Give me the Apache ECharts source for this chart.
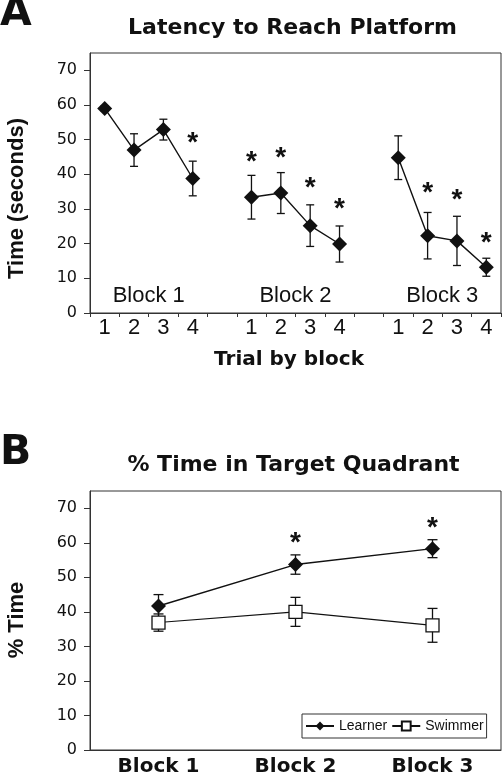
<!DOCTYPE html>
<html><head><meta charset="utf-8">
<script src="https://cdn.jsdelivr.net/npm/echarts@6/dist/echarts.min.js"></script>
<style>html,body{margin:0;padding:0;background:#fff}#c{width:502px;height:777px}</style>
</head><body><div id="c"></div>
<script>
// ---------- Panel A data ----------
const trialLabels = ['1','2','3','4','','1','2','3','4','','1','2','3','4'];
const latencyMean = [59.0, 47.0, 52.9, 38.8, null, 33.4, 34.6, 25.2, 19.9, null, 44.8, 22.3, 20.8, 13.2];
const latencyErr  = [0.8, 4.7, 3.0, 5.0, null, 6.3, 5.9, 6.0, 5.2, null, 6.3, 6.7, 7.1, 2.6];
const latencyStar = [null, null, null, 50.7, null, 45.2, 46.3, 37.6, 31.6, null, null, 36.2, 34.2, 21.9];
const blockNames = ['Block 1', 'Block 2', 'Block 3'];
const blockLabelY = 4.85;
const yTicks = [0, 10, 20, 30, 40, 50, 60, 70];

// ---------- Panel B data ----------
const blocks = ['Block 1', 'Block 2', 'Block 3'];
const learnerMean = [41.7, 53.7, 58.3];
const learnerErr  = [3.3, 2.8, 2.6];
const swimmerMean = [36.9, 40.0, 36.1];
const swimmerErr  = [2.5, 4.2, 4.9];
const learnerStar = [null, 61.7, 66.0];

const INK = '#111';
const chart = echarts.init(document.getElementById('c'), null, {renderer: 'canvas'});

function triples(mean, err) {
  const out = [];
  mean.forEach((m, i) => { if (m != null) out.push([i, m, err[i]]); });
  return out;
}
function pairs(vals) {
  const out = [];
  vals.forEach((v, i) => { if (v != null) out.push([i, v]); });
  return out;
}
function errorBar(hw) {
  return function (params, api) {
    const x = api.value(0), m = api.value(1), e = api.value(2);
    const t = api.coord([x, m + e]);
    const b = api.coord([x, m - e]);
    const st = {stroke: INK, lineWidth: 1.3, fill: null};
    return {type: 'group', children: [
      {type: 'line', shape: {x1: t[0], y1: t[1], x2: b[0], y2: b[1]}, style: st},
      {type: 'line', shape: {x1: t[0] - hw, y1: t[1], x2: t[0] + hw, y2: t[1]}, style: st},
      {type: 'line', shape: {x1: b[0] - hw, y1: b[1], x2: b[0] + hw, y2: b[1]}, style: st}
    ]};
  };
}
function starItem(params, api) {
  const p = api.coord([api.value(0), api.value(1)]);
  return {type: 'text', x: p[0], y: p[1] + 6, style: {
    text: '*', fontSize: 28, fontWeight: 'bold', fontFamily: 'Liberation Sans',
    fill: INK, align: 'center', verticalAlign: 'middle'}};
}
// block ranges derived from trial labels (runs of non-empty labels)
const blockRanges = [];
(function () {
  let s = null;
  trialLabels.forEach((l, i) => {
    if (l !== '' && s === null) s = i;
    if ((l === '' || i === trialLabels.length - 1) && s !== null) {
      blockRanges.push([s, l === '' ? i - 1 : i, blockLabelY]);
      s = null;
    }
  });
})();
function blockLabelItem(params, api) {
  const a = api.coord([api.value(0), api.value(2)]);
  const b = api.coord([api.value(1), api.value(2)]);
  return {type: 'text', x: (a[0] + b[0]) / 2, y: a[1], style: {
    text: blockNames[params.dataIndex], fontSize: 22, fontFamily: 'Liberation Sans',
    fill: INK, align: 'center', verticalAlign: 'middle'}};
}

const yAxisCommon = {
  type: 'value', min: 0, max: 75,
  axisLine: {show: true, lineStyle: {color: '#333', width: 1}},
  axisTick: {show: true, length: 6, lineStyle: {color: '#333'}, customValues: yTicks},
  axisLabel: {margin: 13, fontFamily: 'DejaVu Sans', fontSize: 16, color: INK, customValues: yTicks},
  splitLine: {show: false}
};

const option = {
  animation: false,
  backgroundColor: '#fff',
  grid: [
    {left: 90, right: 1, top: 53, bottom: 464, show: true, borderColor: '#333', borderWidth: 1, backgroundColor: 'transparent'},
    {left: 90, right: 1, top: 491, bottom: 27, show: true, borderColor: '#333', borderWidth: 1, backgroundColor: 'transparent'}
  ],
  xAxis: [
    {type: 'category', gridIndex: 0, data: trialLabels, boundaryGap: true,
     axisLine: {lineStyle: {color: '#333'}},
     axisTick: {show: true, length: 4, interval: 0, lineStyle: {color: '#333'}},
     axisLabel: {interval: 0, margin: 4, fontFamily: 'Liberation Sans', fontSize: 22, color: INK}},
    {type: 'category', gridIndex: 1, data: blocks, boundaryGap: true,
     axisLine: {lineStyle: {color: '#333'}},
     axisTick: {show: false},
     axisLabel: {interval: 0, margin: 7, fontFamily: 'DejaVu Sans', fontWeight: 'bold', fontSize: 20, color: INK}}
  ],
  yAxis: [
    Object.assign({gridIndex: 0}, yAxisCommon),
    Object.assign({gridIndex: 1}, yAxisCommon)
  ],
  legend: {
    data: ['Learner', 'Swimmer'],
    left: 302, top: 714,
    itemWidth: 28, itemHeight: 11, itemGap: 4,
    padding: [5, 3, 5, 3],
    borderColor: '#333', borderWidth: 1, backgroundColor: '#fff',
    textStyle: {fontFamily: 'Liberation Sans', fontSize: 14, color: INK}
  },
  graphic: [
    {type: 'text', x: 0, y: 14, style: {text: 'A', fontSize: 41, fontWeight: 'bold', fontFamily: 'DejaVu Sans', fill: INK, align: 'left', verticalAlign: 'middle'}},
    {type: 'text', x: 0, y: 453, style: {text: 'B', fontSize: 41, fontWeight: 'bold', fontFamily: 'DejaVu Sans', fill: INK, align: 'left', verticalAlign: 'middle'}},
    {type: 'text', x: 292.5, y: 28.7, style: {text: 'Latency to Reach Platform', fontSize: 22, fontWeight: 'bold', fontFamily: 'DejaVu Sans', fill: INK, align: 'center', verticalAlign: 'middle'}},
    {type: 'text', x: 293.5, y: 465, style: {text: '% Time in Target Quadrant', fontSize: 22, fontWeight: 'bold', fontFamily: 'DejaVu Sans', fill: INK, align: 'center', verticalAlign: 'middle'}},
    {type: 'text', x: 289, y: 360, style: {text: 'Trial by block', fontSize: 20, fontWeight: 'bold', fontFamily: 'DejaVu Sans', fill: INK, align: 'center', verticalAlign: 'middle'}},
    {type: 'text', x: 16.7, y: 198.5, rotation: Math.PI / 2, style: {text: 'Time (seconds)', fontSize: 22, fontWeight: 'bold', fontFamily: 'Liberation Sans', fill: INK, align: 'center', verticalAlign: 'middle'}},
    {type: 'text', x: 16.7, y: 620, rotation: Math.PI / 2, style: {text: '% Time', fontSize: 22, fontWeight: 'bold', fontFamily: 'Liberation Sans', fill: INK, align: 'center', verticalAlign: 'middle'}}
  ],
  series: [
    // Panel A
    {type: 'custom', name: 'errA', xAxisIndex: 0, yAxisIndex: 0, renderItem: errorBar(4),
     data: triples(latencyMean, latencyErr), encode: {x: 0, y: 1}, z: 1, silent: true},
    {type: 'line', name: 'Latency', xAxisIndex: 0, yAxisIndex: 0, data: latencyMean,
     connectNulls: false, symbol: 'diamond', symbolSize: 15,
     itemStyle: {color: INK}, lineStyle: {color: INK, width: 1.4}, z: 3},
    {type: 'custom', name: 'starA', xAxisIndex: 0, yAxisIndex: 0, renderItem: starItem,
     data: pairs(latencyStar), encode: {x: 0, y: 1}, z: 4, silent: true},
    {type: 'custom', name: 'blocksA', xAxisIndex: 0, yAxisIndex: 0, renderItem: blockLabelItem,
     data: blockRanges, encode: {x: [0, 1], y: 2}, z: 4, silent: true},
    // Panel B
    {type: 'custom', name: 'errL', xAxisIndex: 1, yAxisIndex: 1, renderItem: errorBar(5),
     data: triples(learnerMean, learnerErr), encode: {x: 0, y: 1}, z: 1, silent: true},
    {type: 'custom', name: 'errS', xAxisIndex: 1, yAxisIndex: 1, renderItem: errorBar(5),
     data: triples(swimmerMean, swimmerErr), encode: {x: 0, y: 1}, z: 1, silent: true},
    {type: 'line', name: 'Learner', xAxisIndex: 1, yAxisIndex: 1, data: learnerMean,
     symbol: 'diamond', symbolSize: 15,
     itemStyle: {color: INK}, lineStyle: {color: INK, width: 1.4}, z: 3},
    {type: 'line', name: 'Swimmer', xAxisIndex: 1, yAxisIndex: 1, data: swimmerMean,
     symbol: 'rect', symbolSize: 13,
     itemStyle: {color: '#fff', borderColor: INK, borderWidth: 1.3}, lineStyle: {color: INK, width: 1.1}, z: 3},
    {type: 'custom', name: 'starB', xAxisIndex: 1, yAxisIndex: 1, renderItem: starItem,
     data: pairs(learnerStar), encode: {x: 0, y: 1}, z: 4, silent: true}
  ]
};
chart.setOption(option);
</script>
</body></html>
